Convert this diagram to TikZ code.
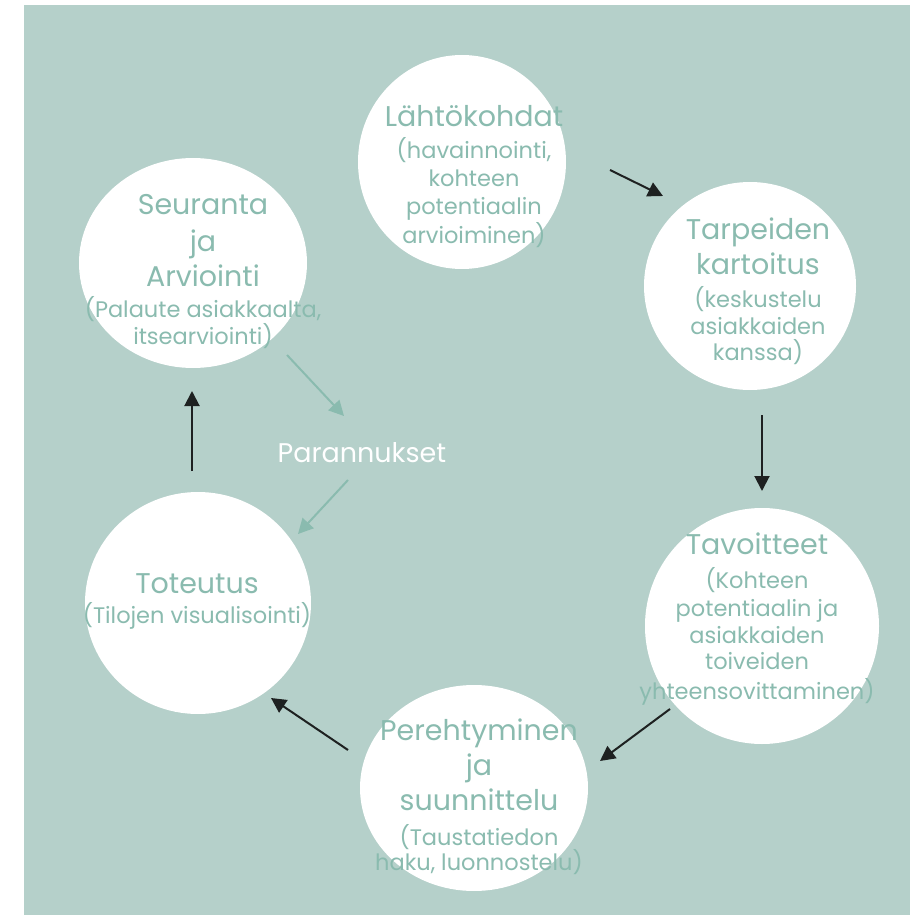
\documentclass[tikz,border=0pt]{standalone}
\usepackage{fontspec}
\setmainfont{Poppins}
\usetikzlibrary{arrows.meta,shapes.geometric}
\definecolor{bgc}{HTML}{B5D0CA}
\definecolor{txc}{HTML}{8ABBAF}
\definecolor{arc}{HTML}{1E2121}
\newcommand{\bigf}{\fontsize{28.5}{35}\selectfont}
\newcommand{\smf}{\fontsize{22.5}{27.5}\selectfont\lineskiplimit=-60pt\relax}
\tikzset{
  bubble/.style={ellipse, fill=white, inner sep=0pt},
  lbl/.style={align=center, text=txc, inner sep=0pt, font=\smf},
  flow/.style={draw=arc, line width=2pt, -{Triangle[length=15pt,width=15pt]}},
  back/.style={draw=txc, line width=2pt, -{Triangle[length=15pt,width=15pt]}},
}
\begin{document}
\begin{tikzpicture}[x=1pt,y=-1pt]
\useasboundingbox (0,0) rectangle (922,915);
\fill[bgc] (24,5) rectangle (910,915);
% circles
\node[bubble, minimum width=208pt, minimum height=214pt] (c1) at (462,162) {};
\node[bubble, minimum width=212pt, minimum height=208pt] (c2) at (750,286) {};
\node[bubble, minimum width=234pt, minimum height=236pt] (c3) at (762,626) {};
\node[bubble, minimum width=228pt, minimum height=206pt] (c4) at (474,788) {};
\node[bubble, minimum width=226pt, minimum height=222pt] (c5) at (198,603) {};
\node[bubble, minimum width=228pt, minimum height=210pt] (c6) at (193,263) {};
% texts
\node[lbl] (t1) at (474,177) {{\bigf Lähtökohdat}\\[4.5pt](havainnointi,\\[0.5pt]kohteen\\[0.5pt]potentiaalin\\[1.5pt]arvioiminen)};
\node[lbl] (t2) at (758,291) {{\bigf Tarpeiden}\\[7.5pt]{\bigf kartoitus}\\[5.5pt](keskustelu\\asiakkaiden\\[-1.5pt]kanssa)};
\node[lbl] (t3) at (757,619) {{\bigf Tavoitteet}\\[6.5pt](Kohteen\\[0.5pt]potentiaalin ja\\[-0.5pt]asiakkaiden\\[-1.5pt]toiveiden\\[2.5pt]yhteensovittaminen)};
\node[lbl] (t4) at (479,796.5) {{\bigf Perehtyminen}\\[7.5pt]{\bigf ja}\\[7.5pt]{\bigf suunnittelu}\\[7.5pt](Taustatiedon\\[-2.5pt]haku, luonnostelu)};
\node[lbl] (t5) at (197,601.5) {{\bigf Toteutus}\\[2.5pt](Tilojen visualisointi)};
\node[lbl] (t6) at (203,271.5) {{\bigf Seuranta}\\[9.5pt]{\bigf ja}\\[7.5pt]{\bigf Arviointi}\\[3.5pt](Palaute asiakkaalta,\\[-0.5pt]itsearviointi)};
\node[text=white, inner sep=0pt, font=\fontsize{27}{30}\selectfont] (p) at (362,453) {Parannukset};
% arrow end points
\coordinate (a1s) at (610,170); \coordinate (a1e) at (663,196);
\coordinate (a2s) at (762,415); \coordinate (a2e) at (762,491);
\coordinate (a3s) at (670,709); \coordinate (a3e) at (600,761);
\coordinate (a4s) at (348,750); \coordinate (a4e) at (271,698);
\coordinate (a5s) at (192,471); \coordinate (a5e) at (192,391);
\coordinate (b1s) at (287,355); \coordinate (b1e) at (344,416);
\coordinate (b2s) at (348,480); \coordinate (b2e) at (298,534);
\draw[flow] (a1s) -- (a1e);
\draw[flow] (a2s) -- (a2e);
\draw[flow] (a3s) -- (a3e);
\draw[flow] (a4s) -- (a4e);
\draw[flow] (a5s) -- (a5e);
\draw[back] (b1s) -- (b1e);
\draw[back] (b2s) -- (b2e);
\end{tikzpicture}
\end{document}
